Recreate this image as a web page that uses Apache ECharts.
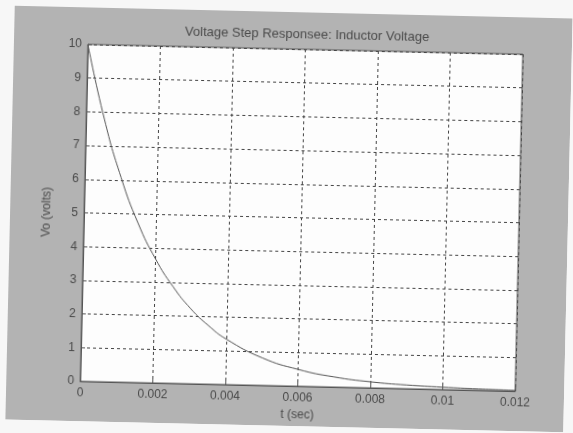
<!DOCTYPE html>
<html>
<head>
<meta charset="utf-8">
<script src="https://cdn.jsdelivr.net/npm/echarts@6/dist/echarts.min.js"></script>
<style>
  html, body { margin: 0; padding: 0; width: 573px; height: 433px; background: #f7f7f7; overflow: hidden; }
  /* the scan is slightly tilted, so the figure is turned a little */
  #main { position: absolute; left: 10px; top: 12px; width: 558px; height: 414px; transform: rotate(1.3deg); }
</style>
</head>
<body>
<div id="main"></div>
<script>
// values
var tSec = [0, 0.0005, 0.001, 0.0015, 0.002, 0.0025, 0.003, 0.0035, 0.004, 0.005, 0.006, 0.007, 0.008, 0.009, 0.010, 0.011, 0.012];
var vo   = [10, 7.8, 6.07, 4.72, 3.68, 2.87, 2.23, 1.74, 1.35, 0.82, 0.50, 0.30, 0.18, 0.11, 0.07, 0.04, 0.025];

var pts = tSec.map(function (t, i) { return [t, vo[i]]; });

var chart = echarts.init(document.getElementById('main'));
var txt = '#4a4a4a';
var font = 'Liberation Sans, Arial, sans-serif';

chart.setOption({
  backgroundColor: '#b3b3b3',
  animation: false,
  title: {
    text: 'Voltage Step Responsee: Inductor Voltage',
    left: 288, top: 11, textAlign: 'center',
    textStyle: { color: txt, fontSize: 13, fontWeight: 'normal', fontFamily: font }
  },
  grid: {
    left: 74, top: 37, width: 435, height: 337,
    show: true, backgroundColor: '#fdfdfd', borderColor: '#555', borderWidth: 1
  },
  xAxis: {
    type: 'value', min: 0, max: 0.012, interval: 0.002,
    name: 't (sec)', nameLocation: 'middle', nameGap: 23,
    nameTextStyle: { color: txt, fontSize: 12, fontFamily: font },
    axisLine: { lineStyle: { color: '#555' } },
    axisTick: { inside: true, length: 4, lineStyle: { color: '#555' } },
    axisLabel: { color: txt, fontSize: 12, fontFamily: font, margin: 6 },
    splitLine: { show: true, lineStyle: { color: '#444', type: [3, 3], width: 1 } }
  },
  yAxis: {
    type: 'value', min: 0, max: 10, interval: 1,
    name: 'Vo (volts)', nameLocation: 'middle', nameGap: 31,
    nameTextStyle: { color: txt, fontSize: 12, fontFamily: font },
    axisLine: { show: true, lineStyle: { color: '#555' } },
    axisTick: { show: true, inside: true, length: 4, lineStyle: { color: '#555' } },
    axisLabel: { color: txt, fontSize: 12, fontFamily: font, margin: 6 },
    splitLine: { show: true, lineStyle: { color: '#444', type: [3, 3], width: 1 } }
  },
  series: [{
    type: 'line',
    data: pts,
    smooth: true,
    showSymbol: false,
    lineStyle: { color: '#555', width: 1 }
  }]
});
</script>
</body>
</html>
